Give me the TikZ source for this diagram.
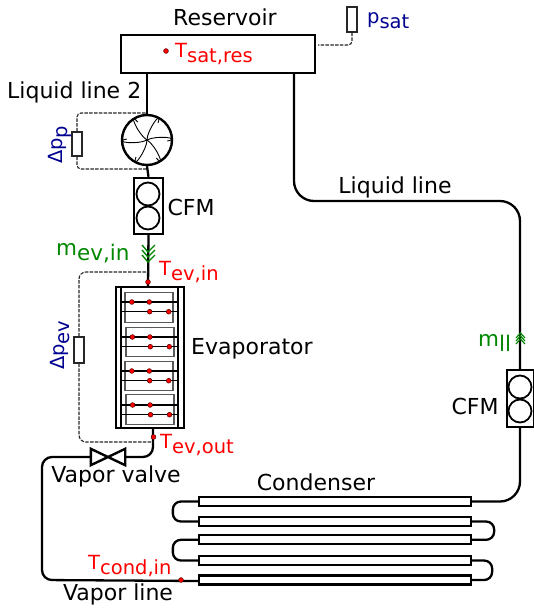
\documentclass[tikz,border=0pt]{standalone}
\usepackage{fontspec}
\setmainfont{DejaVu Sans}
\usetikzlibrary{calc}
\definecolor{redt}{RGB}{255,0,0}
\definecolor{greent}{RGB}{0,135,0}
\definecolor{bluet}{RGB}{0,0,145}
\newcommand{\lowsub}[2]{#1\raisebox{-0.27em}{#2}}
\tikzset{
  pipe/.style={draw=black,line width=2.3pt,rounded corners=10pt},
  box/.style={draw=black,line width=2.4pt,fill=white,rectangle,inner sep=0pt,minimum width=#1},
  txt/.style={inner sep=0pt,font=\fontsize{22}{22}\selectfont,text=black},
  rtxt/.style={inner sep=0pt,font=\fontsize{19.5}{19.5}\selectfont,text=redt},
  gtxt/.style={inner sep=0pt,font=\fontsize{21.5}{21.5}\selectfont,text=greent},
  btxt/.style={inner sep=0pt,font=\fontsize{19.5}{19.5}\selectfont,text=bluet},
  sense/.style={draw=black!85,line width=1.1pt,dash pattern=on 3.5pt off 1.3pt,rounded corners=4pt},
  sensor/.style={draw=black!85,line width=1.1pt,fill=white,rectangle,inner sep=0pt},
  rotor/.style={draw=black,line width=1.8pt,circle,inner sep=0pt,minimum size=23pt,fill=white},
  tube/.style={draw=black,line width=2.3pt,fill=white,rectangle,inner sep=0pt,minimum width=272pt,minimum height=9pt},
  pin/.style={circle,fill=redt,draw=black!70!red,line width=0.5pt,inner sep=0pt,minimum size=4.8pt},
  gbox/.style={draw=black!65,line width=1.4pt,fill=white,rectangle,inner sep=0pt,minimum width=48pt,minimum height=29.5pt},
  chev/.style={draw=greent,line width=1.4pt}
}
\begin{document}
\begin{tikzpicture}[x=1pt,y=-1pt]
\useasboundingbox (0,0) rectangle (534,611);
% key coordinates
\coordinate (cornerB) at (520,201);
\coordinate (cornerE) at (42,580);
\coordinate (evout) at (153,428);
% reservoir
\node[box=194pt,minimum height=38pt] (res) at (218,54) {};
% pump, meters, evaporator frames
\node[circle,draw=black,line width=2.4pt,fill=white,minimum size=50pt,inner sep=0pt] (pump) at (147,140) {};
\node[box=29pt,minimum height=56pt] (cfmA) at (148.5,206) {};
\node[box=27pt,minimum height=57pt] (cfmB) at (520.5,398.5) {};
\node[draw=black,line width=2.4pt,rectangle,inner sep=0pt,minimum width=68pt,minimum height=141pt] (ev) at (150,357.5) {};
% pipes
\draw[pipe] (res.south -| pump) -- (pump.north);
\draw[pipe] (pump.south) -- (cfmA.north);
\coordinate (evin) at (148,287);
\draw[pipe] (cfmA.south) -- (evin);
\draw[pipe,rounded corners=20pt] (294,73) |- (cornerB) -- (cfmB.north -| cornerB);
% evaporator interior
\foreach \n/\yy/\xx in {1/307.5/149,2/342/150,3/376/149,4/409.5/150}{
  \node[gbox] (g\n) at (\xx,\yy) {};
}
\foreach \yy/\dx in {302/0,337/0.6,371/0,405/0.8}{
  \draw[line width=1.2pt] (121,\yy) -- (178,\yy);
  \draw[line width=1.2pt] (121,\yy+9.7) -- (178,\yy+9.7);
  \node[pin] at (131.8+\dx,\yy) {};
  \node[pin] at (149.3+\dx,\yy) {};
  \node[pin] at (149.7+\dx,\yy+9.7) {};
  \node[pin] at (168.7+\dx,\yy+9.7) {};
}
\draw[line width=2.3pt] (121,287) -- (121,428) (178,287) -- (178,428);
% valve
\coordinate (valve) at (108,457);
\node[inner sep=0pt,minimum width=34pt,minimum height=16pt] (vv) at (valve) {};
\draw[line width=2.4pt,line join=miter] (vv.north west) -- (vv.south east) -- (vv.north east) -- (vv.south west) -- cycle;
\draw[pipe] (evout) |- (vv.east);
\draw[pipe] (vv.west) -| (cornerE) -- (199,581);
% condenser
\foreach \n/\yy in {1/501.5,2/521.5,3/539.8,4/560.5,5/580}{
  \node[tube] (c\n) at (335,\yy) {};
}
\draw[pipe,rounded corners=8pt] (c1.west) -- ++(-25,0) -- ++(0,20) -- (c2.west);
\draw[pipe,rounded corners=8pt] (c3.west) -- ++(-25,0) -- ++(0,20.7) -- (c4.west);
\draw[pipe,rounded corners=8pt] (c2.east) -- ++(22,0) -- ++(0,18.3) -- (c3.east);
\draw[pipe,rounded corners=8pt] (c4.east) -- ++(20,0) -- ++(0,19.5) -- (c5.east);
\draw[pipe,rounded corners=20pt] (cfmB.south -| cornerB) |- (c1.east);
% fan
\foreach \a in {0,60,...,300}{
  \draw[line width=0.9pt,rotate around={\a:(pump.center)}] (pump.center) .. controls +(0,-10) and +(5,-15) .. +(11,-17);
}
% meters
\node[rotor] (ra) at (148,194) {};
\node[rotor] (rb) at (148,218) {};
\begin{scope}
\clip (0,0) rectangle (534,611);
\node[rotor] (rc) at (520,387) {};
\node[rotor] (rd) at (520,411) {};
\end{scope}
% sensors
\node[sensor,minimum width=10pt,minimum height=25pt] (sA) at (352,19.5) {};
\node[sensor,minimum width=10pt,minimum height=24pt] (sB) at (77,144) {};
\node[sensor,minimum width=10pt,minimum height=26pt] (sC) at (79,350) {};
\coordinate (tapA) at (318,45);
\coordinate (tapB) at (146,113);
\coordinate (tapC) at (146,169);
\coordinate (tapD) at (148,272);
\coordinate (tapE) at (153,442);
\draw[sense] (sA.south) |- (tapA);
\draw[sense] (sB.north) |- (tapB);
\draw[sense] (sB.south) |- (tapC);
\draw[sense,rounded corners=7pt] (sC.north) |- (tapD);
\draw[sense,rounded corners=7pt] (sC.south) |- (tapE);
% pins
\node[pin] (p1) at (166,51) {};
\node[pin] (p2) at (148,282) {};
\node[pin] (p3) at (153.5,437) {};
\node[pin] (p4) at (181,580) {};
% flow chevrons
\foreach \d in {0,5,10}{
  \draw[chev] (142,245+\d) -- (148,252+\d) -- (155,245+\d);
  \draw[chev,line width=1.2pt] (516,341-\d*0.6+3) -- (520.5,336-\d*0.6+3) -- (525,341-\d*0.6+3);
}
% labels
\node[txt] (t1) at (225,17) {Reservoir};
\node[txt,anchor=west] (t2) at (7,92) {Liquid line 2};
\node[txt] (t3) at (191,207) {CFM};
\node[txt,anchor=west] (t4) at (191,349) {Evaporator};
\node[txt] (t5) at (116,476) {Vapor valve};
\node[txt] (t6) at (316,482) {Condenser};
\node[txt] (t7) at (118,594) {Vapor line};
\node[txt] (t8) at (395,187) {Liquid line};
\node[txt] (t9) at (475,406) {CFM};
\node[rtxt,anchor=base west] (r1) at (175,57) {\lowsub{T}{sat,res}};
\node[rtxt,anchor=base west] (r2) at (159,275) {\lowsub{T}{ev,in}};
\node[rtxt,anchor=base west] (r3) at (160,448) {\lowsub{T}{ev,out}};
\node[rtxt,anchor=base west] (r4) at (88,569) {\lowsub{T}{cond,in}};
\node[gtxt,anchor=base west] (g1) at (56,255) {\lowsub{m}{ev,in}};
\node[gtxt,anchor=base west] (g2) at (478,346) {\lowsub{m}{ll}};
\node[btxt,anchor=base west] (b1) at (367,23) {\lowsub{p}{sat}};
\node[btxt,anchor=base west,rotate=90] (b2) at (62,164) {\lowsub{Δp}{p}};
\node[btxt,anchor=base west,rotate=90] (b3) at (64,370) {\lowsub{Δp}{ev}};
\end{tikzpicture}
\end{document}
